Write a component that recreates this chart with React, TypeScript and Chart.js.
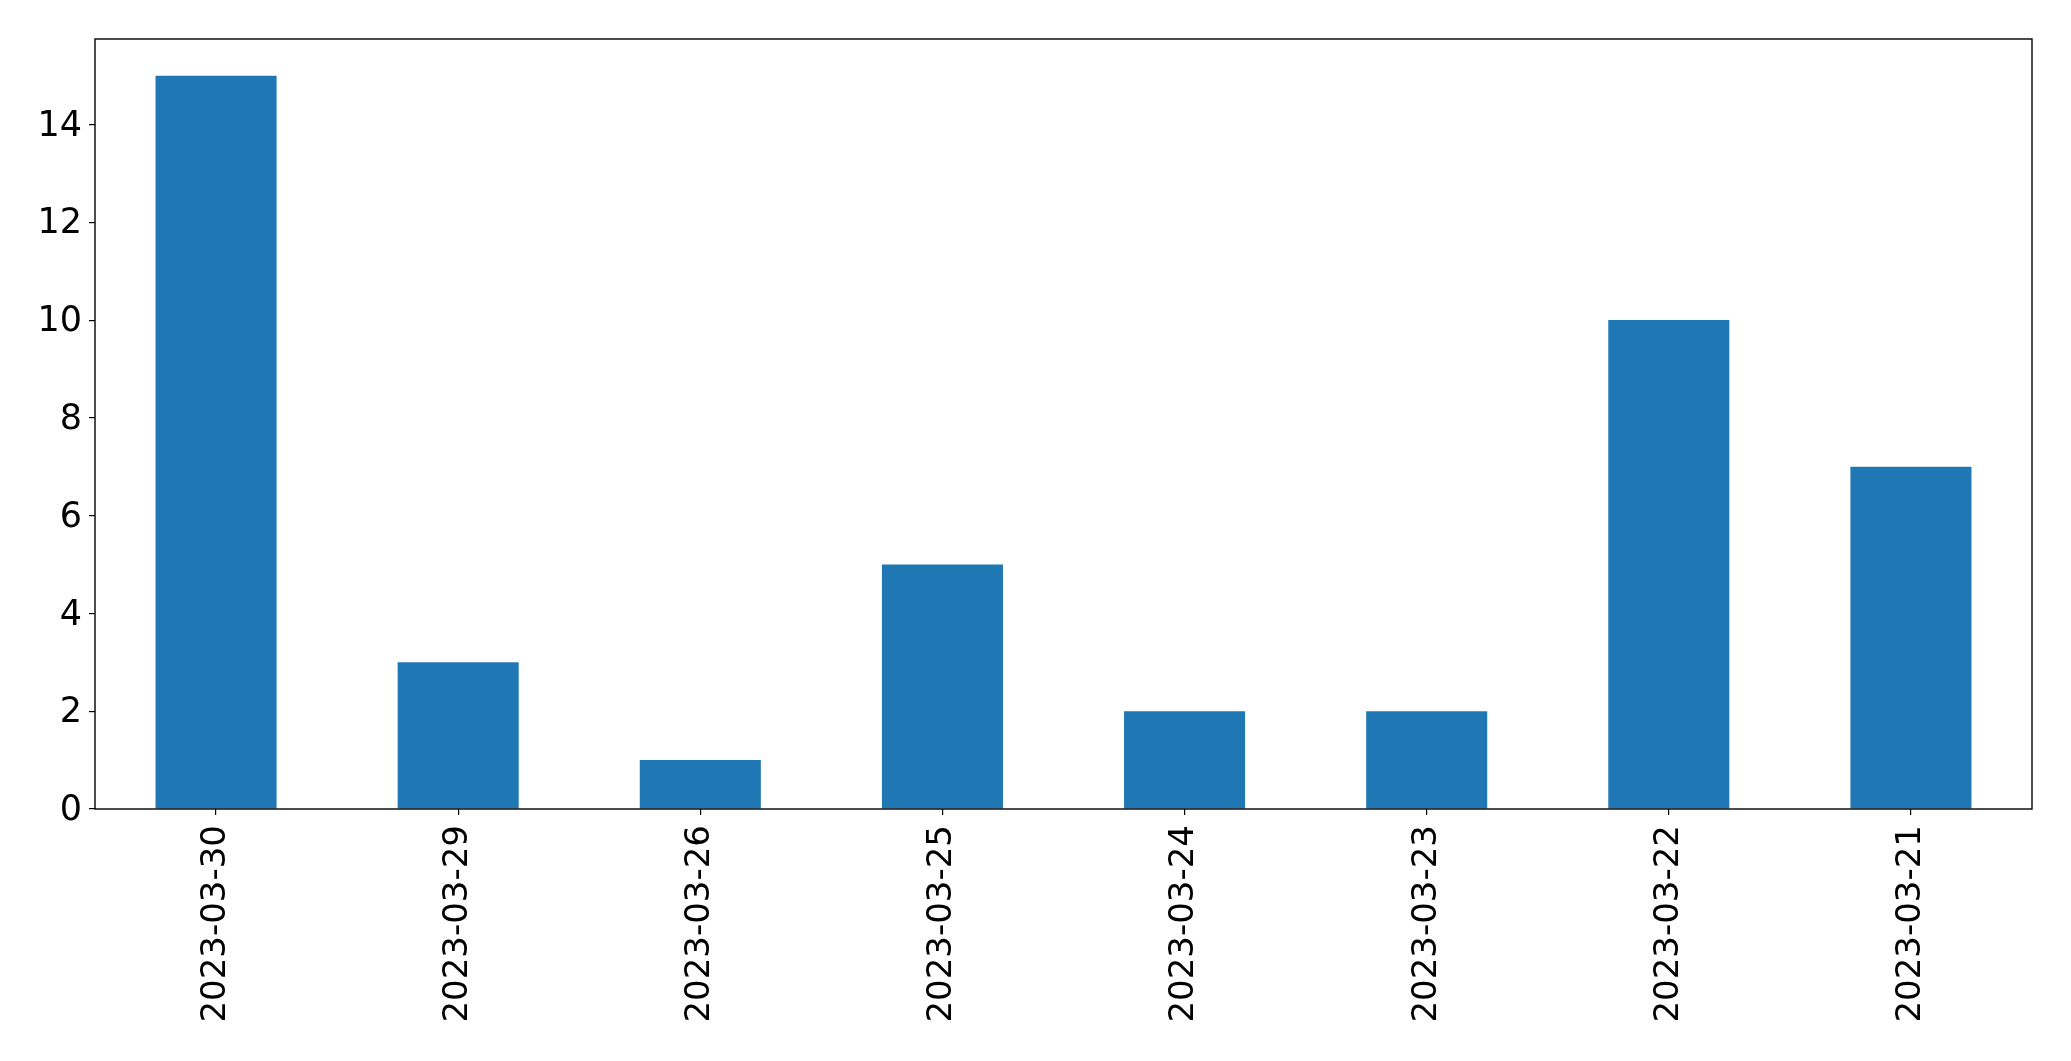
import React, { useEffect, useRef } from "react";
import { Chart, registerables } from "chart.js";

Chart.register(...registerables);

const categories = [
  "2023-03-30",
  "2023-03-29",
  "2023-03-26",
  "2023-03-25",
  "2023-03-24",
  "2023-03-23",
  "2023-03-22",
  "2023-03-21",
];
const counts = [15, 3, 1, 5, 2, 2, 10, 7];
const yTickValues = [0, 2, 4, 6, 8, 10, 12, 14];
const yMax = 15.75;

const W = 2071;
const H = 1061;

const frame = {
  id: "frame",
  afterDatasetsDraw(chart: any) {
    const { ctx, chartArea } = chart;
    ctx.save();
    ctx.strokeStyle = "#000";
    ctx.lineWidth = 1.4;
    ctx.strokeRect(
      chartArea.left,
      chartArea.top,
      chartArea.right - chartArea.left,
      chartArea.bottom - chartArea.top
    );
    ctx.restore();
  },
};

export default function App() {
  const ref = useRef<HTMLCanvasElement | null>(null);

  useEffect(() => {
    document.body.style.margin = "0";
    const canvas = ref.current;
    if (!canvas) return;
    const font = { family: "'DejaVu Sans', sans-serif", size: 34 };
    const chart = new Chart(canvas, {
      type: "bar",
      data: {
        labels: categories,
        datasets: [
          {
            data: counts,
            backgroundColor: "#1f77b4",
            borderWidth: 0,
            barPercentage: 0.5,
            categoryPercentage: 1,
          },
        ],
      },
      plugins: [frame],
      options: {
        responsive: false,
        animation: false,
        devicePixelRatio: 1,
        layout: { padding: { left: 0, top: 39, right: 39, bottom: 0 } },
        plugins: {
          legend: { display: false },
          tooltip: { enabled: false },
        },
        scales: {
          x: {
            type: "category",
            offset: true,
            grid: {
              display: true,
              offset: false,
              drawOnChartArea: false,
              drawTicks: true,
              tickLength: 6,
              color: "#000",
              lineWidth: 1.2,
            },
            border: { display: false },
            ticks: {
              color: "#000",
              font,
              minRotation: 90,
              maxRotation: 90,
              autoSkip: false,
              padding: 10,
            },
            afterFit(scale: any) {
              scale.height = 252;
            },
          },
          y: {
            type: "linear",
            min: 0,
            max: yMax,
            grid: {
              display: true,
              drawOnChartArea: false,
              drawTicks: true,
              tickLength: 6,
              color: "#000",
              lineWidth: 1.2,
            },
            border: { display: false },
            ticks: {
              color: "#000",
              font: { family: "'DejaVu Sans', sans-serif", size: 35 },
              padding: 7,
              labelOffset: 2,
            },
            afterBuildTicks(scale: any) {
              scale.ticks = yTickValues.map((v) => ({ value: v }));
            },
            afterFit(scale: any) {
              scale.width = 95;
            },
          },
        },
      },
    } as any);
    return () => chart.destroy();
  }, []);

  return (
    <div style={{ position: "fixed", left: 0, top: 0, width: W, height: H, background: "#fff" }}>
      <canvas ref={ref} width={W} height={H} style={{ width: W, height: H, display: "block" }} />
    </div>
  );
}
